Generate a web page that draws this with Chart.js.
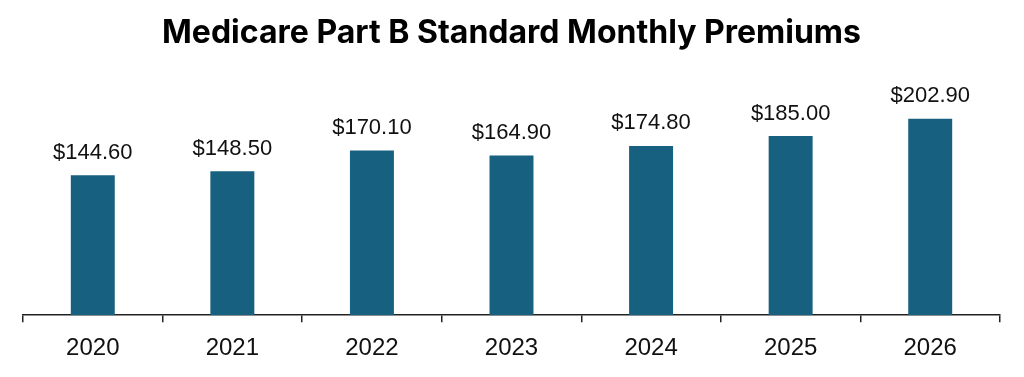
<!DOCTYPE html>
<html>
<head>
<meta charset="utf-8">
<script src="https://cdn.jsdelivr.net/npm/chart.js@4/dist/chart.umd.min.js"></script>
<style>
html,body{margin:0;padding:0;background:#fff;}
#wrap{width:1024px;height:377px;position:relative;}
</style>
</head>
<body>
<div id="wrap"><canvas id="c" width="1024" height="377"></canvas></div>
<script>
const categories = ["2020", "2021", "2022", "2023", "2024", "2025", "2026"];
const premiums = [144.60, 148.50, 170.10, 164.90, 174.80, 185.00, 202.90];
const chartTitle = "Medicare Part B Standard Monthly Premiums";

const barColor = "#17607f";

const valueLabels = {
  id: "valueLabels",
  afterDatasetsDraw(chart) {
    const ctx = chart.ctx;
    const meta = chart.getDatasetMeta(0);
    ctx.save();
    ctx.font = "22px 'Liberation Sans', Arial, sans-serif";
    ctx.fillStyle = "#111";
    ctx.textAlign = "center";
    ctx.textBaseline = "alphabetic";
    meta.data.forEach((bar, i) => {
      ctx.fillText("$" + premiums[i].toFixed(2), bar.x, bar.y - 16.5);
    });
    ctx.restore();
  }
};

new Chart(document.getElementById("c"), {
  type: "bar",
  data: {
    labels: categories,
    datasets: [{
      data: premiums,
      backgroundColor: barColor,
      borderWidth: 0,
      barPercentage: 0.315,
      categoryPercentage: 1.0
    }]
  },
  options: {
    responsive: false,
    animation: false,
    layout: { padding: { left: 23, right: 24, top: 0, bottom: 2 } },
    plugins: {
      legend: { display: false },
      tooltip: { enabled: false },
      title: {
        display: true,
        text: chartTitle,
        color: "#000",
        font: { family: "Inter, 'Open Sans', sans-serif", size: 32, weight: "bold" },
        padding: { top: 14, bottom: 10 }
      }
    },
    scales: {
      y: {
        display: false,
        min: 0,
        max: 261
      },
      x: {
        offset: true,
        border: { display: true, color: "#222", width: 1.5 },
        grid: {
          display: true,
          offset: true,
          drawOnChartArea: false,
          drawTicks: true,
          tickLength: 7,
          color: "#222",
          lineWidth: 1.5
        },
        ticks: {
          color: "#111",
          padding: 12,
          font: { family: "'Liberation Sans', Arial, sans-serif", size: 24 }
        }
      }
    }
  },
  plugins: [valueLabels]
});
</script>
</body>
</html>
